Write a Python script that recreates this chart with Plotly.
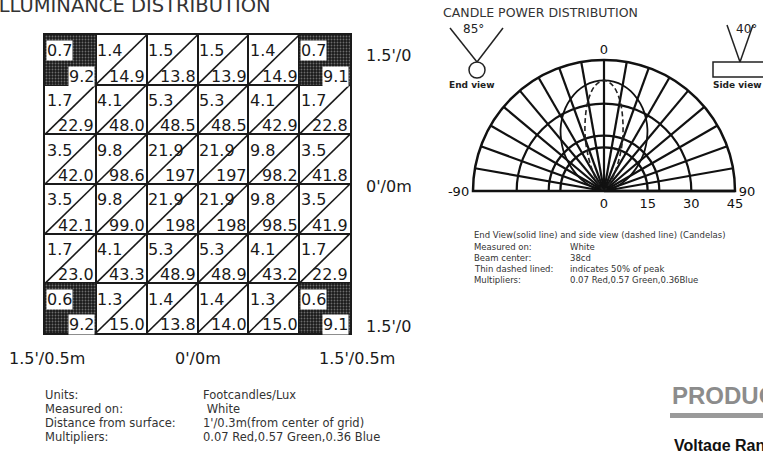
import plotly.graph_objects as go

W, H = 763, 451

# ---------------- data ----------------
fc_rows = [
    ["0.7", "1.4", "1.5", "1.5", "1.4", "0.7"],
    ["1.7", "4.1", "5.3", "5.3", "4.1", "1.7"],
    ["3.5", "9.8", "21.9", "21.9", "9.8", "3.5"],
    ["3.5", "9.8", "21.9", "21.9", "9.8", "3.5"],
    ["1.7", "4.1", "5.3", "5.3", "4.1", "1.7"],
    ["0.6", "1.3", "1.4", "1.4", "1.3", "0.6"],
]
lux_rows = [
    ["9.2", "14.9", "13.8", "13.9", "14.9", "9.1"],
    ["22.9", "48.0", "48.5", "48.5", "42.9", "22.8"],
    ["42.0", "98.6", "197", "197", "98.2", "41.8"],
    ["42.1", "99.0", "198", "198", "98.5", "41.9"],
    ["23.0", "43.3", "48.9", "48.9", "43.2", "22.9"],
    ["9.2", "15.0", "13.8", "14.0", "15.0", "9.1"],
]
corner_cols = [0, 5, 0, 5]
corner_rows = [0, 0, 5, 5]
bottom_labels = ["1.5'/0.5m", "0'/0m", "1.5'/0.5m"]
side_labels = ["1.5'/0", "0'/0m", "1.5'/0"]

angles = [-90, -85, -80, -75, -70, -65, -60, -55, -50, -45, -40, -35, -30, -25, -20, -15, -10, -5, 0,
          5, 10, 15, 20, 25, 30, 35, 40, 45, 50, 55, 60, 65, 70, 75, 80, 85, 90]
end_view = [0, 0.3, 1.2, 2.7, 4.8, 7.4, 10.3, 13.4, 16.6, 19.8, 22.9, 26.0, 28.8, 31.4, 33.6, 35.5, 36.9, 37.7, 38,
            37.7, 36.9, 35.5, 33.6, 31.4, 28.8, 26.0, 22.9, 19.8, 16.6, 13.4, 10.3, 7.4, 4.8, 2.7, 1.2, 0.3, 0]
side_view = [0, 0, 0, 0, 0, 0, 0.1, 0.2, 0.4, 0.9, 2.0, 4.1, 7.6, 12.5, 18.6, 25.0, 31.5, 36.2, 38,
             36.2, 31.5, 25.0, 18.6, 12.5, 7.6, 4.1, 2.0, 0.9, 0.4, 0.2, 0.1, 0, 0, 0, 0, 0, 0]
ang_ticks = list(range(-90, 91, 10))
ang_text = ["-90" if a == -90 else "0" if a == 0 else "90" if a == 90 else "" for a in ang_ticks]
rad_ticks = [0, 15, 19, 30, 45]
rad_text = ["0", "15", "", "30", "45"]

left_note_labels = ["Units:", "Measured on:", "Distance from surface:", "Multipliers:"]
left_note_values = ["Footcandles/Lux", " White", "1'/0.3m(from center of grid)", "0.07 Red,0.57 Green,0.36 Blue"]
right_note_head = "End View(solid line) and side view (dashed line) (Candelas)"
right_note_labels = ["Measured on:", "Beam center:", "Thin dashed lined:", "Multipliers:"]
right_note_values = ["White", "38cd", "indicates 50% of peak", "0.07 Red,0.57 Green,0.36Blue"]


def px(x):
    return x / W


def py(y):
    return 1 - y / H


def note(x, y, text, font, xanchor="left"):
    return dict(x=px(x), y=py(y), xref="paper", yref="paper", text=text, showarrow=False,
                xanchor=xanchor, yanchor="middle", font=font)


fig = go.Figure()

# ---------------- illuminance grid ----------------
n = 6
corners = set(zip(corner_cols, corner_rows))
dx, dy = [], []
for r in range(n):
    for c in range(n):
        if (c, r) in corners:
            continue
        dx += [c - 0.5, c + 0.5, None]
        dy += [r + 0.5, r - 0.5, None]
fig.add_trace(go.Scatter(x=dx, y=dy, mode="lines", line=dict(color="#1a1a1a", width=1.6),
                         hoverinfo="skip", xaxis="x", yaxis="y"))
fig.add_trace(go.Bar(x=corner_cols, y=[1] * 4, base=[rr - 0.5 for rr in corner_rows], width=1,
                     marker=dict(color="#222", line_width=0,
                                 pattern=dict(shape=".", fgcolor="#bdbdbd", bgcolor="#1a1a1a",
                                              size=3, solidity=0.3)),
                     xaxis="x", yaxis="y", hoverinfo="skip"))

annotations = []
num_font = dict(family="DejaVu Sans", size=16, color="#1a1a1a")
for r in range(n):
    for c in range(n):
        bg = "white" if (c, r) in corners else "rgba(0,0,0,0)"
        annotations.append(dict(x=c - 0.49, y=r - 0.18, xref="x", yref="y", text=fc_rows[r][c],
                                showarrow=False, xanchor="left", yanchor="middle", font=num_font,
                                bgcolor=bg, borderpad=0))
        annotations.append(dict(x=c + 0.49, y=r + 0.33, xref="x", yref="y", text=lux_rows[r][c],
                                showarrow=False, xanchor="right", yanchor="middle", font=num_font,
                                bgcolor=bg, borderpad=0))

# ---------------- candle power polar ----------------
fig.add_trace(go.Scatterpolar(r=end_view, theta=angles, mode="lines",
                              line=dict(color="#111", width=1.8, shape="spline"), hoverinfo="skip"))
fig.add_trace(go.Scatterpolar(r=side_view, theta=angles, mode="lines",
                              line=dict(color="#222", width=1.6, dash="5px,3px", shape="spline"),
                              hoverinfo="skip"))

lab = dict(family="DejaVu Sans", size=16, color="#1a1a1a")
for i, t in enumerate(bottom_labels):
    annotations.append(note([47, 198, 357][i], 358, t, lab, "center"))
for i, t in enumerate(side_labels):
    annotations.append(note(364, [56, 187, 326][i], t, lab))

note_font = dict(family="DejaVu Sans", size=11.5, color="#333")
for i in range(4):
    annotations.append(note(43, 395 + 14 * i, left_note_labels[i], note_font))
    annotations.append(note(201, 395 + 14 * i, left_note_values[i], note_font))

small = dict(family="DejaVu Sans", size=8.5, color="#333")
annotations.append(note(472, 235, right_note_head, small))
for i in range(4):
    annotations.append(note(472, 247 + 11 * i, right_note_labels[i], small))
    annotations.append(note(568, 247 + 11 * i, right_note_values[i], small))

annotations += [
    note(-9, 5.5, "ILLUMINANCE DISTRIBUTION", dict(family="DejaVu Sans", size=19.5, color="#333")),
    note(441, 13, "CANDLE POWER DISTRIBUTION", dict(family="DejaVu Sans", size=12.5, color="#333")),
    note(473, 29, "85°", dict(family="DejaVu Sans", size=12, color="#222"), "center"),
    note(472, 85, "<b>End view</b>", dict(family="DejaVu Sans", size=9, color="#222"), "center"),
    note(746, 29, "40°", dict(family="DejaVu Sans", size=12, color="#222"), "center"),
    note(711, 85, "<b>Side view</b>", dict(family="DejaVu Sans", size=9, color="#222")),
    note(670, 395, "<b>PRODUCT</b>", dict(family="Liberation Sans", size=24, color="#8c8c8c")),
    note(672, 445, "<b>Voltage Range</b>", dict(family="Liberation Sans", size=16, color="#111")),
]

shapes = [
    dict(type="line", xref="paper", yref="paper", x0=px(450), y0=py(28), x1=px(477), y1=py(62),
         line=dict(color="#222", width=1.5)),
    dict(type="line", xref="paper", yref="paper", x0=px(503), y0=py(28), x1=px(477), y1=py(62),
         line=dict(color="#222", width=1.5)),
    dict(type="circle", xref="paper", yref="paper", x0=px(469), y0=py(62), x1=px(485), y1=py(78),
         line=dict(color="#222", width=1.5)),
    dict(type="line", xref="paper", yref="paper", x0=px(727), y0=py(25), x1=px(740), y1=py(62),
         line=dict(color="#222", width=1.5)),
    dict(type="line", xref="paper", yref="paper", x0=px(753), y0=py(25), x1=px(740), y1=py(62),
         line=dict(color="#222", width=1.5)),
    dict(type="rect", xref="paper", yref="paper", x0=px(713), y0=py(62), x1=px(775), y1=py(77),
         line=dict(color="#222", width=1.5)),
    dict(type="rect", xref="paper", yref="paper", x0=px(670), y0=py(413), x1=px(775), y1=py(418),
         line=dict(width=0), fillcolor="#9a9a9a"),
]

grid_ticks = [i - 0.5 for i in range(n + 1)]
axis_common = dict(tickvals=grid_ticks, showticklabels=False, ticks="", showgrid=True,
                   gridcolor="#1a1a1a", gridwidth=2, zeroline=False, showline=True,
                   linecolor="#1a1a1a", linewidth=2, mirror=True, fixedrange=True)
fig.update_layout(
    width=W, height=H, margin=dict(l=0, r=0, t=0, b=0),
    paper_bgcolor="white", plot_bgcolor="white", showlegend=False,
    xaxis=dict(domain=[px(45), px(350)], range=[-0.5, 5.5], **axis_common),
    yaxis=dict(domain=[py(333), py(35)], range=[5.5, -0.5], **axis_common),
    polar=dict(
        domain=dict(x=[px(473), px(735)], y=[py(191), py(60)]),
        sector=[0, 180], bgcolor="white",
        angularaxis=dict(rotation=90, direction="clockwise", tickvals=ang_ticks, ticktext=ang_text,
                         showgrid=True, gridcolor="#111", gridwidth=2.2, showline=True,
                         linecolor="#111", linewidth=2.5, ticks="",
                         tickfont=dict(family="DejaVu Sans", size=13, color="#111")),
        radialaxis=dict(range=[0, 45], tickvals=rad_ticks, ticktext=rad_text, angle=0,
                        showgrid=True, gridcolor="#111", gridwidth=2.2, showline=True,
                        linecolor="#111", linewidth=2.5, ticks="",
                        tickfont=dict(family="DejaVu Sans", size=13, color="#111")),
    ),
    annotations=annotations, shapes=shapes,
)

fig.write_html("out.html", config={"displayModeBar": False, "staticPlot": True},
               post_script="document.body.style.margin='0px';document.body.style.overflow='hidden';")
